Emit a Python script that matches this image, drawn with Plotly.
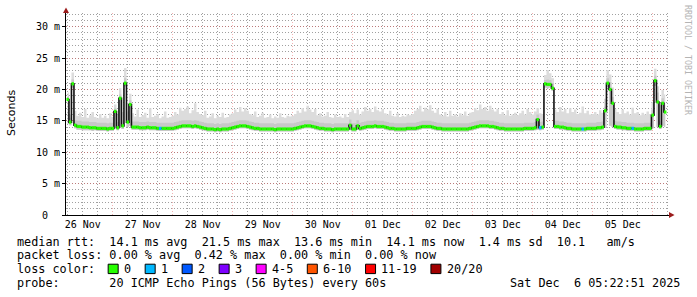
import pandas as pd
import plotly.graph_objects as go

# ---------------- data (hourly columns, first column centred 2025-11-26 06:00) ----------------
start_time = "2025-11-26 06:00"
step_hours = 1

median_ms = [
    # 26 Nov
    18.4, 14.8, 20.9, 14.3, 14.1, 14.1, 14.0, 14.0, 14.0, 13.9, 13.9, 13.9, 13.8, 13.8, 13.8, 13.8, 13.7, 13.8,
    # 27 Nov
    13.8, 16.5, 13.9, 18.6, 14.2, 21.0, 14.8, 17.6, 14.0, 14.0, 14.0, 13.9, 13.9, 13.9, 14.0, 13.9, 13.9, 13.9, 13.8, 13.8, 13.8, 13.8, 13.8, 13.8,
    # 28 Nov
    13.8, 13.9, 14.0, 14.1, 14.2, 14.2, 14.2, 14.2, 14.1, 14.2, 14.1, 14.0, 13.9, 13.8, 13.7, 13.7, 13.7, 13.6, 13.7, 13.6, 13.7, 13.7, 13.7, 13.8,
    # 29 Nov
    13.9, 14.0, 14.1, 14.2, 14.2, 14.2, 14.1, 14.0, 13.9, 13.8, 13.8, 13.7, 13.7, 13.7, 13.7, 13.7, 13.7, 13.6, 13.7, 13.7, 13.7, 13.7, 13.7, 13.7,
    # 30 Nov
    13.7, 13.8, 13.9, 14.0, 14.1, 14.2, 14.2, 14.2, 14.1, 14.0, 13.9, 13.8, 13.8, 13.7, 13.7, 13.7, 13.6, 13.7, 13.7, 13.7, 13.7, 13.7, 13.7, 14.3,
    # 01 Dec
    13.7, 13.7, 14.2, 13.8, 13.9, 14.0, 14.1, 14.1, 14.1, 14.2, 14.1, 14.1, 14.1, 14.0, 13.9, 13.8, 13.8, 13.7, 13.7, 13.7, 13.7, 13.7, 13.8, 13.8,
    # 02 Dec
    13.8, 13.8, 13.9, 14.0, 14.1, 14.1, 14.1, 14.1, 14.0, 13.9, 13.8, 13.8, 13.7, 13.7, 13.7, 13.7, 13.7, 13.7, 13.7, 13.7, 13.7, 13.7, 13.7, 13.8,
    # 03 Dec
    13.9, 14.0, 14.1, 14.2, 14.2, 14.2, 14.2, 14.1, 14.1, 14.0, 13.9, 13.8, 13.8, 13.7, 13.7, 13.7, 13.7, 13.7, 13.7, 13.7, 13.7, 13.8, 13.8, 13.8,
    # 04 Dec
    13.8, 13.9, 15.2, 13.9, 14.0, 20.9, 20.8, 20.8, 20.2, 14.1, 14.1, 14.0, 14.0, 13.9, 13.8, 13.8, 13.7, 13.7, 13.7, 13.7, 13.7, 13.7, 13.8, 13.8,
    # 05 Dec
    13.8, 13.8, 13.9, 13.9, 14.0, 16.6, 21.0, 20.0, 17.8, 14.1, 14.0, 14.0, 13.9, 13.9, 13.8, 13.8, 13.8, 13.7, 13.7, 13.7, 13.7, 13.8, 13.8, 13.8,
    # 06 Dec
    15.9, 21.4, 18.0, 14.1, 17.8, 16.4,
]

smoke_low = [
    14.5, 14.3, 20.3, 13.8, 13.6, 13.6, 13.5, 13.5, 13.5, 13.5, 13.4, 13.5, 13.4, 13.4, 13.4, 13.4, 13.3, 13.4,
    13.4, 13.9, 13.5, 14.0, 13.7, 20.5, 14.0, 14.2, 13.6, 13.6, 13.6, 13.5, 13.5, 13.5, 13.6, 13.5, 13.5, 13.5, 13.4, 13.4, 13.4, 13.4, 13.4, 13.4,
    13.4, 13.5, 13.6, 13.7, 13.8, 13.8, 13.8, 13.8, 13.7, 13.8, 13.7, 13.6, 13.5, 13.4, 13.3, 13.3, 13.3, 13.2, 13.3, 13.2, 13.3, 13.3, 13.3, 13.4,
    13.5, 13.6, 13.7, 13.8, 13.8, 13.8, 13.7, 13.6, 13.5, 13.4, 13.4, 13.3, 13.3, 13.3, 13.3, 13.3, 13.3, 13.2, 13.3, 13.3, 13.3, 13.3, 13.3, 13.3,
    13.3, 13.4, 13.5, 13.6, 13.7, 13.8, 13.8, 13.8, 13.7, 13.6, 13.5, 13.4, 13.4, 13.3, 13.3, 13.3, 13.2, 13.3, 13.3, 13.3, 13.3, 13.3, 13.3, 13.5,
    13.3, 13.3, 13.6, 13.4, 13.5, 13.6, 13.7, 13.7, 13.7, 13.8, 13.7, 13.7, 13.7, 13.6, 13.5, 13.4, 13.4, 13.3, 13.3, 13.3, 13.3, 13.3, 13.4, 13.4,
    13.4, 13.4, 13.5, 13.6, 13.7, 13.7, 13.7, 13.7, 13.6, 13.5, 13.4, 13.4, 13.3, 13.3, 13.3, 13.3, 13.3, 13.3, 13.3, 13.3, 13.3, 13.3, 13.3, 13.4,
    13.5, 13.6, 13.7, 13.8, 13.8, 13.8, 13.8, 13.7, 13.7, 13.6, 13.5, 13.4, 13.4, 13.3, 13.3, 13.3, 13.3, 13.3, 13.3, 13.3, 13.3, 13.4, 13.4, 13.4,
    13.4, 13.5, 13.6, 13.5, 13.6, 20.3, 20.2, 20.3, 19.8, 13.7, 13.7, 13.6, 13.6, 13.5, 13.4, 13.4, 13.3, 13.3, 13.3, 13.3, 13.3, 13.3, 13.4, 13.4,
    13.4, 13.4, 13.5, 13.5, 13.6, 13.9, 20.4, 14.2, 14.0, 13.7, 13.6, 13.6, 13.5, 13.5, 13.4, 13.4, 13.4, 13.3, 13.3, 13.3, 13.3, 13.4, 13.4, 13.4,
    13.8, 20.6, 14.0, 13.7, 14.2, 14.0,
]

smoke_mid = [
    19.0, 15.5, 21.6, 15.1, 15.0, 15.0, 14.9, 14.9, 14.9, 14.8, 14.8, 14.8, 14.7, 14.7, 14.7, 14.7, 14.6, 14.7,
    14.7, 17.0, 14.8, 19.2, 15.1, 21.8, 16.5, 18.3, 14.9, 14.9, 14.9, 14.8, 14.8, 14.8, 14.9, 14.8, 14.8, 14.8, 14.7, 14.7, 14.7, 14.7, 14.7, 14.7,
    14.7, 14.8, 14.9, 15.0, 15.1, 15.1, 15.1, 15.1, 15.0, 15.1, 15.0, 14.9, 14.8, 14.7, 14.6, 14.6, 14.6, 14.5, 14.6, 14.5, 14.6, 14.6, 14.6, 14.7,
    14.8, 14.9, 15.0, 15.1, 15.1, 15.1, 15.0, 14.9, 14.8, 14.7, 14.7, 14.6, 14.6, 14.6, 14.6, 14.6, 14.6, 14.5, 14.6, 14.6, 14.6, 14.6, 14.6, 14.6,
    14.6, 14.7, 14.8, 14.9, 15.0, 15.1, 15.1, 15.1, 15.0, 14.9, 14.8, 14.7, 14.7, 14.6, 14.6, 14.6, 14.5, 14.6, 14.6, 14.6, 14.6, 14.6, 14.6, 15.2,
    14.6, 14.6, 15.1, 14.7, 14.8, 14.9, 15.0, 15.0, 15.0, 15.1, 15.0, 15.0, 15.0, 14.9, 14.8, 14.7, 14.7, 14.6, 14.6, 14.6, 14.6, 14.6, 14.7, 14.7,
    14.7, 14.7, 14.8, 14.9, 15.0, 15.0, 15.0, 15.0, 14.9, 14.8, 14.7, 14.7, 14.6, 14.6, 14.6, 14.6, 14.6, 14.6, 14.6, 14.6, 14.6, 14.6, 14.6, 14.7,
    14.8, 14.9, 15.0, 15.1, 15.1, 15.1, 15.1, 15.0, 15.0, 14.9, 14.8, 14.7, 14.7, 14.6, 14.6, 14.6, 14.6, 14.6, 14.6, 14.6, 14.6, 14.7, 14.7, 14.7,
    14.7, 14.8, 16.0, 14.8, 14.9, 21.5, 21.6, 21.5, 21.0, 15.0, 15.0, 14.9, 14.9, 14.8, 14.7, 14.7, 14.6, 14.6, 14.6, 14.6, 14.6, 14.6, 14.7, 14.7,
    14.7, 14.7, 14.8, 14.8, 14.9, 17.3, 21.8, 21.2, 18.8, 15.0, 14.9, 14.9, 14.8, 14.8, 14.7, 14.7, 14.7, 14.6, 14.6, 14.6, 14.6, 14.7, 14.7, 14.7,
    16.8, 22.2, 19.5, 15.0, 18.6, 17.5,
]

smoke_top = [
    19.5, 16.0, 22.7, 16.6, 15.8, 16.3, 15.6, 16.9, 15.5, 15.9, 16.4, 15.6, 15.4, 16.1, 15.5, 15.8, 15.4, 16.2,
    15.6, 17.6, 16.0, 20.2, 16.4, 23.4, 17.8, 19.3, 16.2, 15.7, 16.8, 15.6, 15.9, 16.3, 15.5, 17.0, 15.6, 15.8, 16.1, 15.4, 15.7, 16.5, 15.5, 15.6,
    15.8, 16.4, 16.0, 17.1, 16.6, 16.9, 17.3, 16.2, 16.7, 17.8, 16.4, 16.1, 15.9, 16.6, 15.5, 15.7, 16.2, 15.4, 15.8, 15.6, 16.3, 15.5, 15.6, 16.0,
    16.2, 16.8, 16.4, 17.2, 16.5, 17.0, 16.6, 16.1, 15.9, 16.5, 15.6, 15.8, 16.3, 15.5, 15.6, 16.0, 15.4, 15.7, 15.5, 16.2, 15.6, 15.5, 15.8, 15.7,
    15.8, 16.1, 16.6, 16.3, 17.0, 16.5, 17.4, 16.8, 16.4, 16.9, 15.9, 16.2, 15.7, 15.8, 16.4, 15.6, 15.5, 16.0, 15.6, 15.7, 15.5, 16.1, 15.6, 16.4,
    16.7, 16.2, 16.8, 16.0, 16.5, 17.2, 16.6, 16.9, 16.4, 17.3, 16.7, 16.5, 16.9, 16.2, 16.0, 16.6, 15.8, 15.7, 16.2, 15.6, 15.8, 15.7, 16.0, 15.9,
    16.1, 16.6, 16.9, 17.4, 16.5, 17.1, 16.8, 17.5, 16.6, 16.3, 16.9, 16.0, 15.8, 16.4, 15.7, 16.6, 15.8, 16.0, 15.7, 16.2, 15.9, 16.5, 15.8, 16.3,
    16.4, 17.0, 16.7, 17.6, 16.9, 17.2, 16.6, 17.4, 16.8, 16.5, 16.9, 16.1, 16.4, 15.9, 16.7, 15.8, 16.0, 16.3, 15.9, 16.2, 16.6, 16.0, 16.9, 16.4,
    16.0, 16.5, 17.0, 16.2, 16.1, 22.3, 23.1, 22.6, 21.8, 16.8, 16.4, 17.2, 16.5, 16.9, 16.2, 17.0, 16.4, 16.8, 16.1, 16.3, 17.3, 16.2, 16.6, 16.0,
    16.1, 16.4, 16.0, 16.7, 16.3, 18.5, 23.1, 22.4, 20.3, 16.9, 16.4, 16.1, 16.8, 16.2, 16.5, 16.0, 17.1, 16.2, 16.4, 15.9, 16.3, 16.0, 16.5, 16.1,
    18.0, 23.3, 20.5, 17.5, 19.9, 19.2,
]

# packet loss per column (pings lost out of 20); columns not listed lost nothing
loss_events = {37: 1, 189: 1, 206: 1, 226: 1}

loss_labels = ["0", "1", "2", "3", "4-5", "6-10", "11-19", "20/20"]
loss_colors = ["#26ff00", "#00b8ff", "#0059ff", "#7e00ff", "#ff00ff", "#ff5500", "#ff0000", "#a10000"]

day_labels = ["26 Nov", "27 Nov", "28 Nov", "29 Nov", "30 Nov", "01 Dec", "02 Dec", "03 Dec", "04 Dec", "05 Dec"]
label_days = ["2025-11-26", "2025-11-27", "2025-11-28", "2025-11-29", "2025-11-30",
              "2025-12-01", "2025-12-02", "2025-12-03", "2025-12-04", "2025-12-05"]

y_tick_vals = [0, 5, 10, 15, 20, 25, 30]
y_tick_text = ["0\u00a0\u00a0", "5 m", "10 m", "15 m", "20 m", "25 m", "30 m"]

rtt_stats = ["14.1 ms avg", "21.5 ms max", "13.6 ms min", "14.1 ms now", "1.4 ms sd", "10.1   am/s"]
loss_stats = ["0.00 % avg", "0.42 % max", "0.00 % min", "0.00 % now"]
probe_text = "20 ICMP Echo Pings (56 Bytes) every 60s"
stamp_text = "Sat Dec  6 05:22:51 2025"

# ---------------- geometry (pixels) ----------------
W_FIG, H_FIG = 697, 297
PL, PR, PT, PB = 66, 669, 13, 215
Y_MAX = 32.18
view_start = "2025-11-26 05:19:12"
view_end = "2025-12-06 06:31:12"

n = len(median_ms)
times = pd.date_range(start=start_time, periods=n, freq=f"{step_hours}h")
half = pd.Timedelta(minutes=30 * step_hours)


def px(xp):
    return (xp - PL) / (PR - PL)


def py(yp):
    return (PB - yp) / (PB - PT)


def nb(s):
    return s.replace(" ", "\u00a0")


def loss_index(c):
    if c <= 0:
        return 0
    if c <= 3:
        return c
    if c <= 5:
        return 4
    if c <= 10:
        return 5
    if c <= 19:
        return 6
    return 7


fig = go.Figure()
common = dict(hoverinfo="skip", showlegend=False)

# smoke: outer light band
fig.add_trace(go.Scatter(x=times, y=smoke_low, mode="lines", line=dict(width=0, shape="hvh"), **common))
fig.add_trace(go.Scatter(x=times, y=smoke_top, mode="lines", line=dict(width=0, shape="hvh"),
                         fill="tonexty", fillcolor="#dcdcdc", **common))
# smoke: inner darker band
fig.add_trace(go.Scatter(x=times, y=smoke_low, mode="lines", line=dict(width=0, shape="hvh"), **common))
fig.add_trace(go.Scatter(x=times, y=smoke_mid, mode="lines", line=dict(width=0, shape="hvh"),
                         fill="tonexty", fillcolor="#c8c8c8", **common))
# median (black connecting line)
fig.add_trace(go.Scatter(x=times, y=median_ms, mode="lines",
                         line=dict(color="#111111", width=1.6, shape="hvh"), **common))
# median coloured by loss: one horizontal segment per column
for ci, col in enumerate(loss_colors):
    xs, ys = [], []
    for i in range(n):
        if loss_index(loss_events.get(i, 0)) != ci:
            continue
        xs += [times[i] - half, times[i] + half, None]
        ys += [median_ms[i], median_ms[i], None]
    if xs:
        fig.add_trace(go.Scatter(x=xs, y=ys, mode="lines", line=dict(color=col, width=3.2),
                                 connectgaps=False, **common))
# carrier for the grid axis
fig.add_trace(go.Scatter(x=times, y=median_ms, xaxis="x2", mode="lines",
                         line=dict(width=0), opacity=0, **common))

mono = "DejaVu Sans Mono"
minor_grid = "rgba(120,120,120,0.7)"
major_grid = "rgba(225,70,70,0.42)"

fig.update_layout(
    width=W_FIG, height=H_FIG,
    margin=dict(l=PL, r=W_FIG - PR, t=PT, b=H_FIG - PB, pad=0),
    paper_bgcolor="white", plot_bgcolor="white",
    font=dict(family=mono, size=10, color="black"),
    xaxis=dict(type="date", range=[view_start, view_end],
               tickmode="array", tickvals=[d + " 12:00" for d in label_days], ticktext=day_labels,
               showgrid=False, zeroline=False, ticks="", showline=True, linecolor="black", linewidth=1,
               tickfont=dict(family=mono, size=10), fixedrange=True),
    xaxis2=dict(type="date", range=[view_start, view_end], overlaying="x", side="bottom",
                tick0="2025-11-27", dtick=86400000, showticklabels=False, ticks="",
                showgrid=True, gridcolor=major_grid, gridwidth=1, griddash="1px,2px",
                minor=dict(dtick=6 * 3600000, showgrid=True, gridcolor=minor_grid,
                           gridwidth=1, griddash="1px,2px"),
                showline=False, zeroline=False),
    yaxis=dict(range=[0, Y_MAX], tickmode="array", tickvals=y_tick_vals, ticktext=y_tick_text,
               showgrid=True, gridcolor=major_grid, gridwidth=1, griddash="1px,2px",
               minor=dict(dtick=1, showgrid=True, gridcolor=minor_grid, gridwidth=1, griddash="1px,2px"),
               zeroline=False, showline=True, linecolor="black", linewidth=1,
               ticks="outside", ticklen=3, tickcolor="black",
               tickfont=dict(family=mono, size=10), fixedrange=True),
)

shapes = []
arrow_col = "#9b1c1c"
shapes.append(dict(type="path", xref="paper", yref="paper", fillcolor=arrow_col, line=dict(width=0),
                   path=f"M {px(669)},{py(212)} L {px(674.5)},{py(215)} L {px(669)},{py(218)} Z"))
shapes.append(dict(type="path", xref="paper", yref="paper", fillcolor=arrow_col, line=dict(width=0),
                   path=f"M {px(63)},{py(13)} L {px(66)},{py(7.5)} L {px(69)},{py(13)} Z"))

annotations = []
leg_font = dict(family=mono, size=11.8, color="black")
CW = 7.09
LX = 16
line_y = [241.7, 255.2, 268.8, 282.6]


def add_text(x, y, text, anchor="left", font=leg_font):
    annotations.append(dict(xref="paper", yref="paper", x=px(x), y=py(y), text=nb(text),
                            showarrow=False, xanchor=anchor, yanchor="middle", borderpad=0, font=font))


add_text(LX, line_y[0], "median rtt:  " + "  ".join(rtt_stats))
add_text(LX, line_y[1], "packet loss: " + "  ".join(loss_stats))
add_text(LX, line_y[2], "loss color:")
add_text(LX, line_y[3], "probe:       " + probe_text)
add_text(681, line_y[3], stamp_text, anchor="right")

bx = LX + 13 * CW
for lab, col in zip(loss_labels, loss_colors):
    shapes.append(dict(type="rect", xref="paper", yref="paper",
                       x0=px(bx), x1=px(bx + 10), y0=py(264.2), y1=py(273.6),
                       fillcolor=col, line=dict(color="black", width=1)))
    tx = bx + 14.7
    add_text(tx, line_y[2], lab)
    bx = tx + len(lab) * CW + 15.2

# axis title and watermark
annotations.append(dict(xref="paper", yref="paper", x=px(11), y=py(113), text="Seconds", textangle=-90,
                        showarrow=False, xanchor="center", yanchor="middle", borderpad=0,
                        font=dict(family="DejaVu Sans", size=11, color="black")))
annotations.append(dict(xref="paper", yref="paper", x=px(688), y=py(60), text=nb("RRDTOOL / TOBI OETIKER"),
                        textangle=90, showarrow=False, xanchor="center", yanchor="middle", borderpad=0,
                        font=dict(family=mono, size=8.3, color="#b4b4b4")))

fig.update_layout(shapes=shapes, annotations=annotations)
fig.write_html("out.html")
